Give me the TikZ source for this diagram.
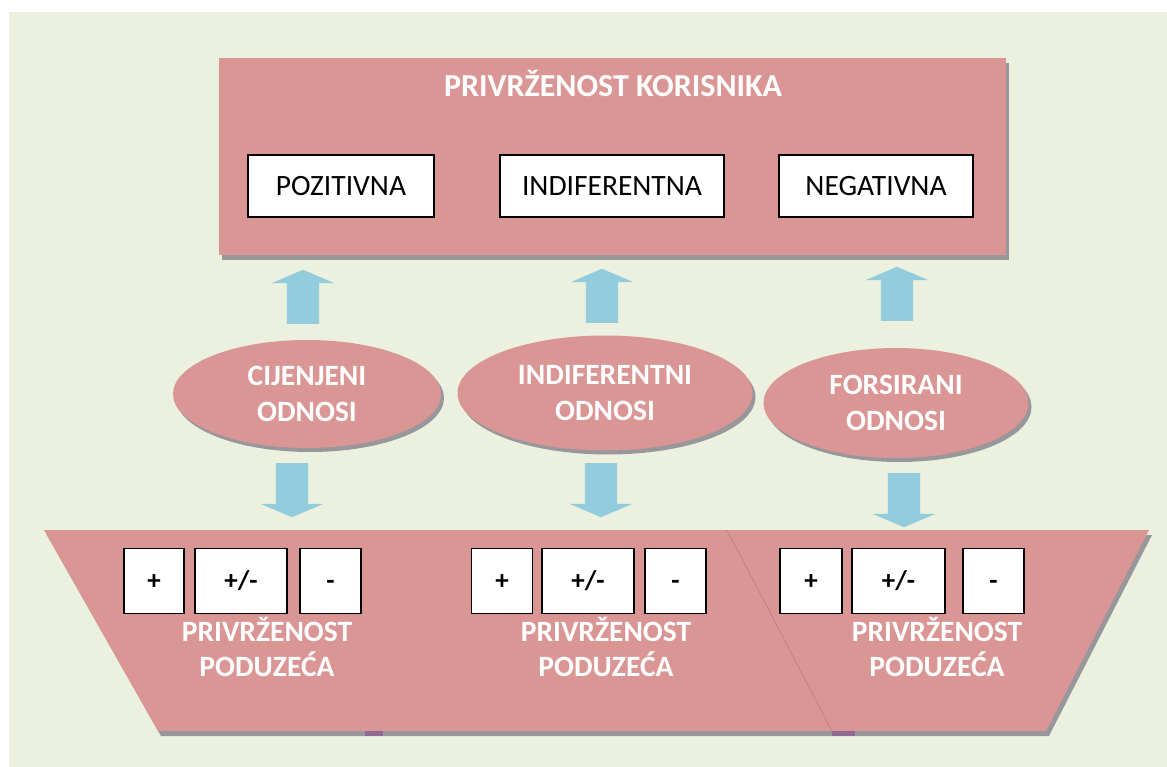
\documentclass[tikz,border=0pt]{standalone}
\usepackage{fontspec}
\setmainfont{Carlito}
\usetikzlibrary{shapes.geometric,shapes.arrows,shadows}
\definecolor{bgreen}{HTML}{EBF1DE}
\definecolor{rosy}{HTML}{D99694}
\definecolor{aqua}{HTML}{93CDDD}
\definecolor{shade}{HTML}{98979C}

\begin{document}
\begin{tikzpicture}[x=1pt, y=-1pt,
    panel/.style={fill=rosy, general shadow={fill=shade, shadow xshift=3pt, shadow yshift=-5pt}},
    relation/.style={ellipse, fill=rosy, inner sep=0pt, general shadow={fill=shade, shadow xshift=3pt, shadow yshift=-4pt}, text=white, font=\bfseries\fontsize{29.5}{36}\selectfont, align=center},
    kind/.style={draw, line width=1.4pt, fill=white, minimum height=62pt, inner sep=0pt, font=\fontsize{29.5}{34}\selectfont},
    grade/.style={draw, line width=1.4pt, fill=white, minimum height=65pt, inner sep=0pt, text height=17pt, text depth=0pt, font=\bfseries\fontsize{27}{30}\selectfont},
    heading/.style={text=white, inner sep=0pt, font=\bfseries\fontsize{29.5}{35}\selectfont, align=center},
    flow/.style={single arrow, fill=aqua, inner xsep=0pt, inner ysep=16pt, minimum width=62pt, single arrow head extend=15pt, single arrow tip angle=134, anchor=tail, minimum height=54pt}]
        \useasboundingbox (0,0) rectangle (1167,767);
        \fill[bgreen] (9,12) rectangle (1167,767);

        % customer loyalty
        \node[panel, minimum width=787pt, minimum height=197pt, inner sep=0pt] (customer) at (612.5,156.5) {};
        \node[heading, anchor=base, font=\bfseries\fontsize{32}{35}\selectfont] (customertitle) at (613,97) {PRIVRŽENOST KORISNIKA};
        \node[kind, minimum width=186pt] (positive) at (341,186) {POZITIVNA};
        \node[kind, minimum width=224pt] (indifferent) at (612,186) {INDIFERENTNA};
        \node[kind, minimum width=194pt] (negative) at (876,186) {NEGATIVNA};

        % company loyalty
        \fill[panel] (44,530) -- (1149,530) -- (1046,731) -- (158,731) -- cycle;
        \draw[rosy!75!black, line width=0.3pt] (727,530) -- (832,731);
        \fill[shade!70!violet] (365,731) rectangle (383,736);
        \fill[shade!70!violet] (832,731) rectangle (855,736);

        % relations
        \node[relation, minimum width=268pt, minimum height=108pt] (valued) at (307,394) {CIJENJENI\\ODNOSI};
        \node[relation, minimum width=295pt, minimum height=115pt] (neutral) at (605,393) {INDIFERENTNI\\ODNOSI};
        \node[relation, minimum width=265pt, minimum height=110pt] (forced) at (896,403) {FORSIRANI\\ODNOSI};

        \node[flow, rotate=90] (up1) at (303,324) {};
        \node[flow, rotate=90] (up2) at (602,323) {};
        \node[flow, rotate=90] (up3) at (897,321) {};
        \node[flow, rotate=-90] (down1) at (292,463) {};
        \node[flow, rotate=-90] (down2) at (601,463) {};
        \node[flow, rotate=-90] (down3) at (904,473) {};

        \node[grade, minimum width=60pt] (plus1) at (154,581) {+};
        \node[grade, minimum width=92pt] (mixed1) at (241,581) {+/-};
        \node[grade, minimum width=61pt] (minus1) at (330.5,581) {-};
        \node[heading] (company1) at (267,647) {PRIVRŽENOST\\PODUZEĆA};

        \node[grade, minimum width=61pt] (plus2) at (502,581) {+};
        \node[grade, minimum width=92pt] (mixed2) at (588,581) {+/-};
        \node[grade, minimum width=61pt] (minus2) at (675.5,581) {-};
        \node[heading] (company2) at (606,647) {PRIVRŽENOST\\PODUZEĆA};

        \node[grade, minimum width=62pt] (plus3) at (811,581) {+};
        \node[grade, minimum width=93pt] (mixed3) at (898.5,581) {+/-};
        \node[grade, minimum width=61pt] (minus3) at (993.5,581) {-};
        \node[heading] (company3) at (937,647) {PRIVRŽENOST\\PODUZEĆA};
      \end{tikzpicture}
\end{document}
